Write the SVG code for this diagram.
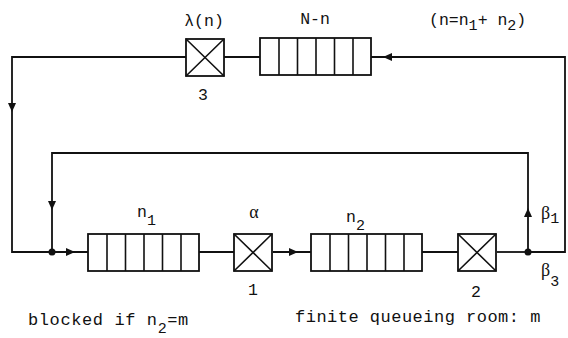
<svg xmlns="http://www.w3.org/2000/svg" xmlns:xlink="http://www.w3.org/1999/xlink" width="568" height="338" viewBox="0 0 568 338">
<style>
.ln{fill:none;stroke:#111;stroke-width:1.8;stroke-linejoin:miter}
.bx{fill:#fff;stroke:#111;stroke-width:1.8}
.dv{stroke:#111;stroke-width:1.6}
.t{font-family:"Liberation Mono","DejaVu Sans Mono",monospace;font-size:16.5px;fill:#111}
.b{font-family:"Liberation Mono","DejaVu Sans Mono",monospace;font-size:17px;fill:#111;letter-spacing:0.6px}
.s{font-family:"Liberation Mono","DejaVu Sans Mono",monospace;font-size:15px;fill:#111}
.g{font-family:"Liberation Serif","DejaVu Serif",serif;font-size:18px;fill:#111}
</style>
<defs>
<path id="ah" d="M0,0 L-9,-4 L-9,4 Z" fill="#111"/>
<g id="srv"><rect class="bx" x="0" y="0" width="38" height="37"/><path class="dv" d="M0,0 L38,37 M38,0 L0,37"/></g>
<g id="que"><rect class="bx" x="0" y="0" width="111" height="37"/><path class="dv" d="M19,0 V37 M37.5,0 V37 M56,0 V37 M74.5,0 V37 M93,0 V37"/></g>
</defs>
<g id="connectors">
<path class="ln" d="M528,252 H565 V57 H371"/>
<path class="ln" d="M260,57 H224"/>
<path class="ln" d="M186,57 H12 V252 H52"/>
<path class="ln" d="M528,252 V153 H52 V252"/>
<path class="ln" d="M52,252 H88"/>
<path class="ln" d="M199,252 H234"/>
<path class="ln" d="M273,252 H311"/>
<path class="ln" d="M422,252 H458"/>
<path class="ln" d="M497,252 H528"/>
<use xlink:href="#ah" transform="translate(12,112) rotate(90)"/>
<use xlink:href="#ah" transform="translate(383,57) rotate(180)"/>
<use xlink:href="#ah" transform="translate(52,210) rotate(90)"/>
<use xlink:href="#ah" transform="translate(75,252)"/>
<use xlink:href="#ah" transform="translate(298,252)"/>
<use xlink:href="#ah" transform="translate(528,208) rotate(-90)"/>
<circle cx="52" cy="252" r="3.5" fill="#111"/>
<circle cx="528" cy="252" r="3.5" fill="#111"/>
</g>
<g id="server3">
<use xlink:href="#srv" transform="translate(186,39)"/>
<text class="t" x="204" y="26" text-anchor="middle">λ(n)</text>
<text class="t" x="203" y="100" text-anchor="middle">3</text>
</g>
<g id="queueNn">
<use xlink:href="#que" transform="translate(260,38)"/>
<text class="t" x="315" y="24" text-anchor="middle">N-n</text>
</g>
<g id="sumlabel">
<text class="t" x="429" y="25">(n=n<tspan class="s" dy="5">1</tspan><tspan dy="-5">+ n</tspan><tspan class="s" dy="5">2</tspan><tspan dy="-5">)</tspan></text>
</g>
<g id="queue1">
<use xlink:href="#que" transform="translate(88,234)"/>
<text class="t" x="137" y="217">n<tspan class="s" dy="8">1</tspan></text>
</g>
<g id="server1">
<use xlink:href="#srv" transform="translate(234,234)"/>
<text class="g" x="254" y="218" text-anchor="middle">α</text>
<text class="t" x="253" y="295" text-anchor="middle">1</text>
</g>
<g id="queue2">
<use xlink:href="#que" transform="translate(311,234)"/>
<text class="t" x="346" y="222">n<tspan class="s" dy="8">2</tspan></text>
</g>
<g id="server2">
<use xlink:href="#srv" transform="translate(458,234)"/>
<text class="t" x="476" y="297" text-anchor="middle">2</text>
</g>
<g id="beta1">
<text class="g" x="541" y="219">β<tspan class="s" dy="4">1</tspan></text>
</g>
<g id="beta3">
<text class="g" x="541" y="276">β<tspan class="s" dy="10">3</tspan></text>
</g>
<g id="notes">
<text class="b" x="28" y="325">blocked if n<tspan class="s" dy="8">2</tspan><tspan dy="-8">=m</tspan></text>
<text class="b" x="295" y="322" textLength="246" lengthAdjust="spacing">finite queueing room: m</text>
</g>
</svg>
